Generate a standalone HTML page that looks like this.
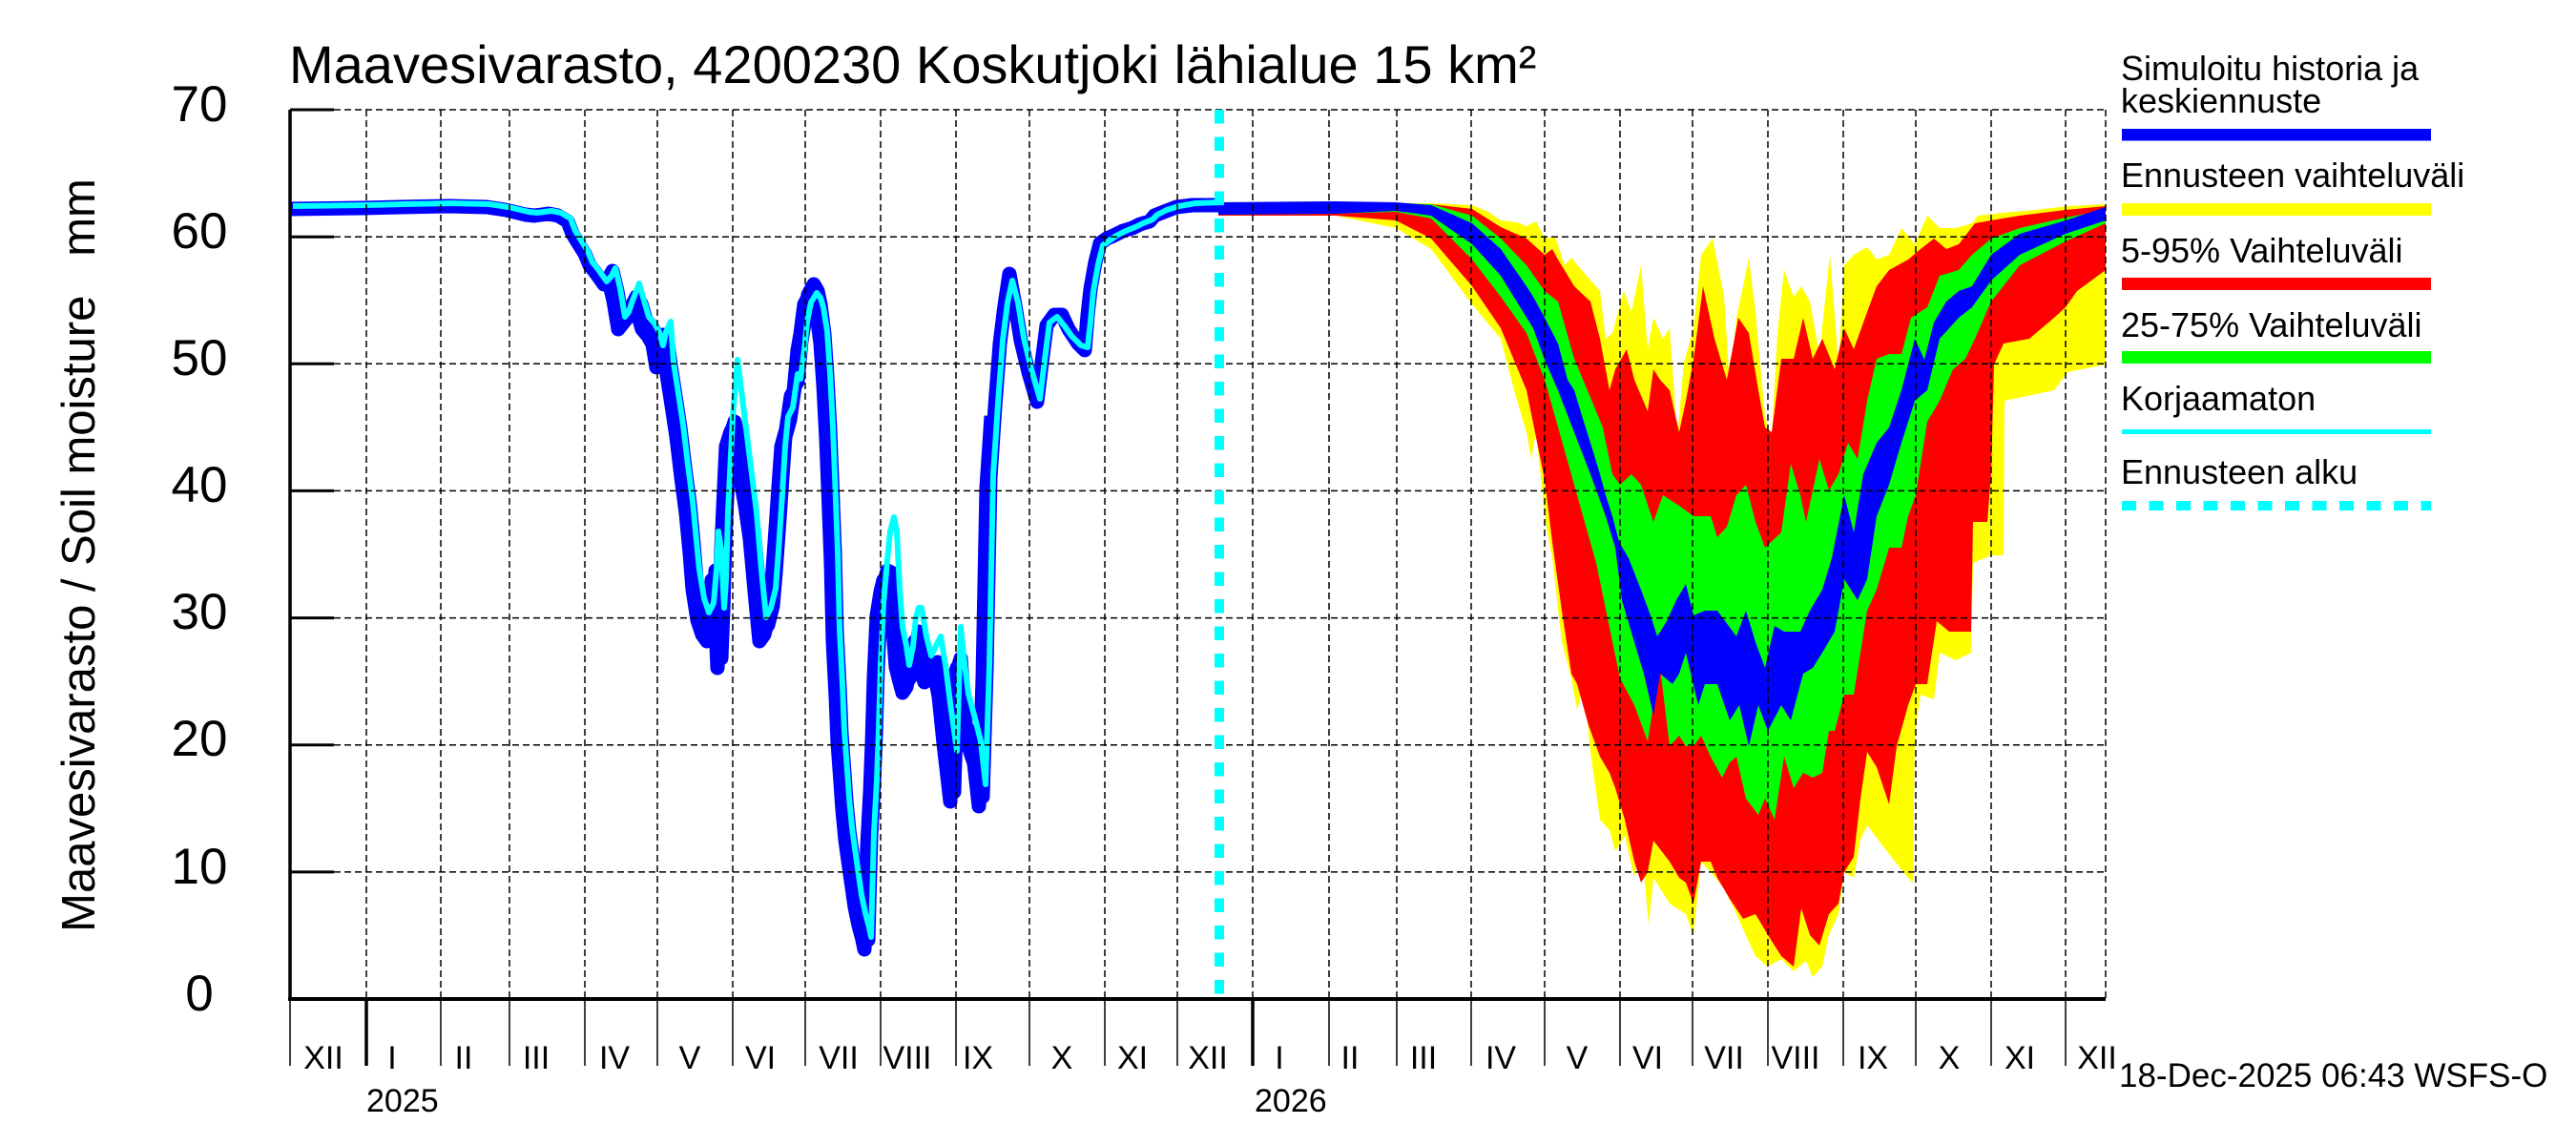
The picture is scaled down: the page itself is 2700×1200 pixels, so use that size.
<!DOCTYPE html>
<html>
<head>
<meta charset="utf-8">
<style>
html,body{margin:0;padding:0;background:#fff;}
svg{display:block;}
text{font-family:"Liberation Sans",Arial,Helvetica,sans-serif;fill:#000;}
</style>
</head>
<body>
<svg xmlns="http://www.w3.org/2000/svg" width="2700" height="1200" viewBox="0 0 2700 1200">
<rect x="0" y="0" width="2700" height="1200" fill="#fff"/>

<!-- Title -->
<text x="303" y="87" font-size="56">Maavesivarasto, 4200230 Koskutjoki lähialue 15 km²</text>

<!-- Y axis label -->
<text transform="translate(99,582) rotate(-90)" text-anchor="middle" font-size="49">Maavesivarasto / Soil moisture&#160;&#160;&#160;mm</text>

<!-- Y tick labels -->
<g font-size="53" text-anchor="middle">
<text x="209" y="127">70</text>
<text x="209" y="260">60</text>
<text x="209" y="393">50</text>
<text x="209" y="526">40</text>
<text x="209" y="659">30</text>
<text x="209" y="792">20</text>
<text x="209" y="926">10</text>
<text x="209" y="1059">0</text>
</g>

<!-- Forecast bands -->
<polygon fill="#ffff00" points="1277,212 1400,211 1463,213 1500,213 1543,215 1560,222 1573,231 1590,233 1600,237 1610,232 1619,250 1630,248 1640,278 1647,270 1663,289 1677,305 1683,355 1690,349 1702,305 1710,327 1720,278 1727,366 1733,333 1743,355 1750,344 1758,459 1765,380 1775,344 1783,267 1795,250 1807,310 1813,404 1820,333 1827,300 1833,270 1840,327 1850,437 1857,459 1863,349 1870,283 1880,311 1888,300 1897,316 1907,371 1918,267 1927,382 1933,278 1943,267 1957,259 1967,272 1980,267 1993,239 2007,256 2020,226 2033,239 2050,239 2067,234 2073,226 2100,223 2133,220 2167,216 2207,214 2207,382 2167,390 2153,409 2101,420 2100,582 2087,582 2068,590 2066,684 2050,692 2033,684 2027,733 2013,728 2007,770 2005,925 2000,920 1980,895 1957,865 1950,880 1943,920 1933,914 1927,958 1917,980 1910,1013 1900,1024 1893,1007 1880,1018 1867,1005 1853,1013 1840,1002 1827,974 1820,958 1807,931 1793,914 1783,903 1775,980 1767,958 1750,947 1733,920 1728,969 1720,881 1713,920 1703,876 1693,892 1687,870 1677,859 1667,788 1660,717 1653,744 1647,711 1637,673 1627,585 1620,547 1610,453 1605,481 1600,453 1587,409 1573,355 1543,319 1500,261 1463,239 1400,226 1277,226"/>
<polygon fill="#ff0000" points="1277,212 1400,212 1463,214 1500,214 1543,219 1573,238 1600,250 1619,267 1627,261 1633,272 1650,300 1667,316 1677,355 1687,409 1693,387 1705,366 1713,398 1727,431 1733,387 1740,398 1750,409 1760,453 1767,420 1775,377 1785,300 1797,355 1810,398 1822,333 1833,349 1843,409 1850,448 1857,453 1867,376 1880,376 1890,333 1900,376 1910,355 1923,387 1933,344 1943,366 1957,327 1967,300 1980,283 2000,272 2013,261 2027,250 2040,261 2053,256 2070,234 2087,231 2117,226 2165,220 2207,216 2207,283 2177,305 2165,322 2153,333 2127,355 2100,360 2090,382 2087,497 2083,547 2068,547 2066,662 2043,662 2030,651 2020,717 2008,717 2000,739 1988,782 1980,843 1967,804 1957,788 1950,837 1943,898 1933,914 1927,947 1917,958 1907,991 1897,980 1888,952 1880,1013 1867,1002 1853,980 1840,958 1827,963 1813,942 1800,920 1793,903 1783,903 1775,947 1767,925 1760,920 1750,903 1740,890 1733,881 1727,914 1720,925 1713,903 1703,859 1693,826 1687,810 1677,793 1665,760 1653,717 1647,706 1637,640 1627,568 1619,503 1600,409 1573,344 1543,300 1500,250 1463,231 1400,226 1277,226"/>
<polygon fill="#00ff00" points="1277,213 1400,212 1463,213 1500,214 1543,226 1573,250 1600,278 1619,305 1633,316 1650,376 1673,431 1680,448 1690,497 1698,508 1710,497 1720,508 1733,547 1743,519 1760,530 1775,541 1793,541 1800,563 1810,552 1820,519 1830,508 1840,547 1850,574 1867,558 1877,486 1887,519 1893,547 1907,481 1917,514 1927,497 1937,464 1947,481 1957,420 1967,376 1980,371 1993,371 2003,333 2020,322 2033,289 2053,283 2067,267 2087,250 2117,239 2165,228 2207,220 2207,234 2165,253 2117,278 2087,316 2070,355 2060,376 2047,387 2033,420 2020,442 2008,519 2000,541 1993,574 1980,574 1967,618 1957,640 1950,684 1943,728 1933,728 1923,766 1917,766 1910,810 1900,815 1890,810 1880,826 1870,793 1860,859 1850,837 1843,854 1830,837 1820,793 1813,799 1805,815 1793,793 1783,771 1775,782 1767,782 1760,771 1750,782 1740,700 1733,739 1727,777 1713,739 1698,711 1673,590 1650,508 1619,398 1600,349 1573,311 1543,272 1500,229 1463,222 1400,224 1277,225"/>
<polygon fill="#0000ff" points="1277,212 1400,211 1463,212 1500,215 1543,234 1573,261 1600,300 1607,311 1619,333 1633,360 1643,398 1650,409 1660,442 1667,464 1677,497 1683,519 1690,541 1697,568 1707,585 1720,618 1730,645 1737,667 1747,651 1757,629 1767,612 1775,645 1787,640 1800,640 1820,667 1830,640 1840,673 1850,700 1860,656 1870,662 1887,662 1897,640 1910,618 1920,585 1933,519 1943,558 1953,497 1967,464 1980,448 1993,409 2007,355 2017,377 2027,338 2040,316 2053,305 2067,300 2087,267 2117,245 2165,231 2207,217 2207,231 2165,245 2117,267 2087,294 2067,322 2053,333 2033,355 2020,409 2007,420 1993,464 1980,508 1967,541 1957,607 1947,629 1933,607 1923,662 1910,684 1900,700 1890,706 1877,755 1867,739 1853,766 1843,739 1833,782 1823,739 1813,755 1800,717 1787,717 1780,739 1767,684 1760,706 1753,717 1740,706 1733,750 1723,706 1713,673 1700,629 1693,574 1683,541 1667,497 1650,453 1633,409 1619,377 1607,344 1573,289 1543,256 1500,226 1463,221 1400,224 1277,225"/>

<!-- History: simulated (blue) and uncorrected (cyan) -->
<polyline fill="none" stroke="#0000ff" stroke-width="15" stroke-linejoin="round" points="304,219 380,218 420,217 470,216 510,217 530,220 551,225 560,226 575,224 585,226 595,232 600,245 608,258 613,266 618,278 623,284 628,291 633,298 638,292 642,284 647,305 652,335 656,330 660,325 667,311 672,318 677,335 683,342 688,351 692,375 695,351 700,360 703,383 708,415 713,448 718,490 723,528 727,570 730,608 735,640 740,655 745,662 748,640 750,598 753,620 756,690 758,640 760,566 763,500 765,458 770,442 775,465 780,491 785,520 790,555 795,610 800,662 805,655 810,635 813,600 817,544 820,500 823,458 828,440 833,405 836,400 840,357 843,340 847,309 853,298 857,305 860,319 864,350 867,394 870,450 872,501 875,580 877,662 880,720 882,769 885,810 887,839 890,870 893,892 897,920 900,941 904,960 908,975 910,985 913,876 916,820 918,769 920,700 923,635 927,610 930,598 934,600 937,608 940,650 943,689 947,705 950,716 954,710 957,694 960,680 963,662 968,690 973,705 978,700 983,694 988,720 993,769 1000,830 1004,700 1007,690 1012,760 1020,775 1025,790 1030,835 1034,700 1038,501 1043,426 1048,360 1053,320 1058,287 1064,320 1070,357 1078,390 1087,421 1092,380 1097,341 1105,330 1113,330 1120,345 1130,360 1137,367 1140,330 1143,303 1148,275 1153,255 1160,250 1167,247 1177,242 1187,239 1195,235 1205,232 1210,226 1220,222 1233,217 1250,215 1280,215"/>
<polyline fill="none" stroke="#0000ff" stroke-width="15" stroke-linejoin="round" transform="translate(-4,10)" points="642,284 647,305 652,335 656,330 660,325 667,311 672,318 677,335 683,342 688,351 692,375 695,351 700,360 703,383 708,415 713,448 718,490 723,528 727,570 730,608 735,640 740,655 745,662 748,640 750,598 753,620 756,690 758,640 760,566 763,500 765,458 770,442 775,465 780,491 785,520 790,555 795,610 800,662 805,655 810,635 813,600 817,544 820,500 823,458 828,440 833,405 836,400 840,357 843,340 847,309 853,298 857,305 860,319 864,350 867,394 870,450 872,501 875,580 877,662 880,720 882,769 885,810 887,839 890,870 893,892 897,920 900,941 904,960 908,975 910,985 913,876 916,820 918,769 920,700 923,635 927,610 930,598 934,600 937,608 940,650 943,689 947,705 950,716 954,710 957,694 960,680 963,662 968,690 973,705 978,700 983,694 988,720 993,769 1000,830 1004,700 1007,690 1012,760 1020,775 1025,790 1030,835 1034,700 1038,501 1043,426"/>
<polyline fill="none" stroke="#00ffff" stroke-width="6" stroke-linejoin="round" transform="translate(3,-3)" points="304,219 380,218 420,217 470,216 510,217 530,220 551,225 560,226 575,224 585,226 595,232 600,245 608,258 613,266 618,278 623,284 628,291 633,298 638,292 642,284 647,305 652,335 656,330 660,318 667,300 672,318 677,335 683,342 688,351 692,365 695,351 700,340 703,383 708,415 713,448 718,490 723,528 727,570 730,600 735,630 740,645 745,635 748,600 750,560 753,580 756,640 758,610 760,540 763,480 765,440 770,380 775,420 780,460 785,500 790,540 795,600 800,650 805,640 810,620 813,580 817,520 820,470 823,440 828,430 833,395 836,400 840,370 843,340 847,320 853,310 857,315 860,325 864,350 867,394 870,450 872,501 875,580 877,662 880,720 882,769 885,810 887,839 890,870 893,892 897,920 900,941 904,960 908,975 910,985 913,876 916,820 918,769 920,700 923,635 927,590 930,560 934,545 937,560 940,620 943,660 947,680 950,700 954,680 957,650 960,640 963,640 968,670 973,690 978,680 983,670 988,700 993,740 1000,790 1004,660 1007,690 1012,730 1020,760 1025,780 1030,825 1034,700 1038,501 1043,426 1048,360 1053,320 1058,297 1064,320 1070,357 1078,390 1087,421 1092,380 1097,341 1105,335 1113,345 1120,355 1130,365 1137,367 1140,340 1143,308 1148,280 1153,260 1160,255 1167,250 1177,245 1187,241 1195,237 1205,233 1210,228 1220,223 1233,219 1250,216 1280,215"/>

<!-- Grid -->
<g stroke="#000" stroke-width="1.5" stroke-dasharray="7 4" fill="none">
<line x1="350" y1="115" x2="2207" y2="115"/>
<line x1="350" y1="248.2" x2="2207" y2="248.2"/>
<line x1="350" y1="381.3" x2="2207" y2="381.3"/>
<line x1="350" y1="514.4" x2="2207" y2="514.4"/>
<line x1="350" y1="647.6" x2="2207" y2="647.6"/>
<line x1="350" y1="780.7" x2="2207" y2="780.7"/>
<line x1="350" y1="913.9" x2="2207" y2="913.9"/>
<line x1="384" y1="115" x2="384" y2="1047"/>
<line x1="462" y1="115" x2="462" y2="1047"/>
<line x1="534" y1="115" x2="534" y2="1047"/>
<line x1="613" y1="115" x2="613" y2="1047"/>
<line x1="689" y1="115" x2="689" y2="1047"/>
<line x1="768" y1="115" x2="768" y2="1047"/>
<line x1="844" y1="115" x2="844" y2="1047"/>
<line x1="923" y1="115" x2="923" y2="1047"/>
<line x1="1002" y1="115" x2="1002" y2="1047"/>
<line x1="1079" y1="115" x2="1079" y2="1047"/>
<line x1="1158" y1="115" x2="1158" y2="1047"/>
<line x1="1234" y1="115" x2="1234" y2="1047"/>
<line x1="1313" y1="115" x2="1313" y2="1047"/>
<line x1="1393" y1="115" x2="1393" y2="1047"/>
<line x1="1464" y1="115" x2="1464" y2="1047"/>
<line x1="1542" y1="115" x2="1542" y2="1047"/>
<line x1="1619" y1="115" x2="1619" y2="1047"/>
<line x1="1698" y1="115" x2="1698" y2="1047"/>
<line x1="1774" y1="115" x2="1774" y2="1047"/>
<line x1="1853" y1="115" x2="1853" y2="1047"/>
<line x1="1932" y1="115" x2="1932" y2="1047"/>
<line x1="2008" y1="115" x2="2008" y2="1047"/>
<line x1="2087" y1="115" x2="2087" y2="1047"/>
<line x1="2165" y1="115" x2="2165" y2="1047"/>
<line x1="2207" y1="115" x2="2207" y2="1047"/>
</g>

<!-- Forecast start line -->
<line x1="1278" y1="115" x2="1278" y2="1047" stroke="#00ffff" stroke-width="10" stroke-dasharray="14.5 14"/>

<!-- Axes -->
<g stroke="#000" fill="none">
<line x1="304" y1="115" x2="304" y2="1049" stroke-width="3.5"/>
<line x1="302" y1="1047" x2="2207" y2="1047" stroke-width="4"/>
<g stroke-width="3">
<line x1="304" y1="115" x2="350" y2="115"/>
<line x1="304" y1="248.2" x2="350" y2="248.2"/>
<line x1="304" y1="381.3" x2="350" y2="381.3"/>
<line x1="304" y1="514.4" x2="350" y2="514.4"/>
<line x1="304" y1="647.6" x2="350" y2="647.6"/>
<line x1="304" y1="780.7" x2="350" y2="780.7"/>
<line x1="304" y1="913.9" x2="350" y2="913.9"/>
</g>
<g stroke-width="1.5">
<line x1="304" y1="1047" x2="304" y2="1117"/>
<line x1="462" y1="1047" x2="462" y2="1117"/>
<line x1="534" y1="1047" x2="534" y2="1117"/>
<line x1="613" y1="1047" x2="613" y2="1117"/>
<line x1="689" y1="1047" x2="689" y2="1117"/>
<line x1="768" y1="1047" x2="768" y2="1117"/>
<line x1="844" y1="1047" x2="844" y2="1117"/>
<line x1="923" y1="1047" x2="923" y2="1117"/>
<line x1="1002" y1="1047" x2="1002" y2="1117"/>
<line x1="1079" y1="1047" x2="1079" y2="1117"/>
<line x1="1158" y1="1047" x2="1158" y2="1117"/>
<line x1="1234" y1="1047" x2="1234" y2="1117"/>
<line x1="1393" y1="1047" x2="1393" y2="1117"/>
<line x1="1464" y1="1047" x2="1464" y2="1117"/>
<line x1="1542" y1="1047" x2="1542" y2="1117"/>
<line x1="1619" y1="1047" x2="1619" y2="1117"/>
<line x1="1698" y1="1047" x2="1698" y2="1117"/>
<line x1="1774" y1="1047" x2="1774" y2="1117"/>
<line x1="1853" y1="1047" x2="1853" y2="1117"/>
<line x1="1932" y1="1047" x2="1932" y2="1117"/>
<line x1="2008" y1="1047" x2="2008" y2="1117"/>
<line x1="2087" y1="1047" x2="2087" y2="1117"/>
<line x1="2165" y1="1047" x2="2165" y2="1117"/>
</g>
<g stroke-width="3.5">
<line x1="384" y1="1047" x2="384" y2="1117"/>
<line x1="1313" y1="1047" x2="1313" y2="1117"/>
</g>
</g>

<!-- Month labels -->
<g font-size="34" text-anchor="middle">
<text x="339" y="1120">XII</text>
<text x="411" y="1120">I</text>
<text x="486" y="1120">II</text>
<text x="562" y="1120">III</text>
<text x="644" y="1120">IV</text>
<text x="723" y="1120">V</text>
<text x="797" y="1120">VI</text>
<text x="879" y="1120">VII</text>
<text x="951" y="1120">VIII</text>
<text x="1025" y="1120">IX</text>
<text x="1113" y="1120">X</text>
<text x="1187" y="1120">XI</text>
<text x="1266" y="1120">XII</text>
<text x="1341" y="1120">I</text>
<text x="1415" y="1120">II</text>
<text x="1492" y="1120">III</text>
<text x="1573" y="1120">IV</text>
<text x="1653" y="1120">V</text>
<text x="1727" y="1120">VI</text>
<text x="1807" y="1120">VII</text>
<text x="1882" y="1120">VIII</text>
<text x="1963" y="1120">IX</text>
<text x="2043" y="1120">X</text>
<text x="2117" y="1120">XI</text>
<text x="2198" y="1120">XII</text>
</g>
<g font-size="34">
<text x="384" y="1165">2025</text>
<text x="1315" y="1165">2026</text>
</g>

<!-- Timestamp -->
<text x="2221" y="1139" font-size="35">18-Dec-2025 06:43 WSFS-O</text>

<!-- Legend -->
<g font-size="36">
<text x="2223" y="84">Simuloitu historia ja</text>
<text x="2223" y="118">keskiennuste</text>
<text x="2223" y="196">Ennusteen vaihteluväli</text>
<text x="2223" y="275">5-95% Vaihteluväli</text>
<text x="2223" y="353">25-75% Vaihteluväli</text>
<text x="2223" y="430">Korjaamaton</text>
<text x="2223" y="507">Ennusteen alku</text>
</g>
<rect x="2224" y="135" width="324" height="12.5" fill="#0000ff"/>
<rect x="2224" y="213" width="324" height="13" fill="#ffff00"/>
<rect x="2224" y="291" width="324" height="13" fill="#ff0000"/>
<rect x="2224" y="368" width="324" height="13" fill="#00ff00"/>
<rect x="2224" y="450" width="324" height="5" fill="#00ffff"/>
<line x1="2224" y1="530" x2="2548" y2="530" stroke="#00ffff" stroke-width="10" stroke-dasharray="15 13.5"/>
</svg>
</body>
</html>
